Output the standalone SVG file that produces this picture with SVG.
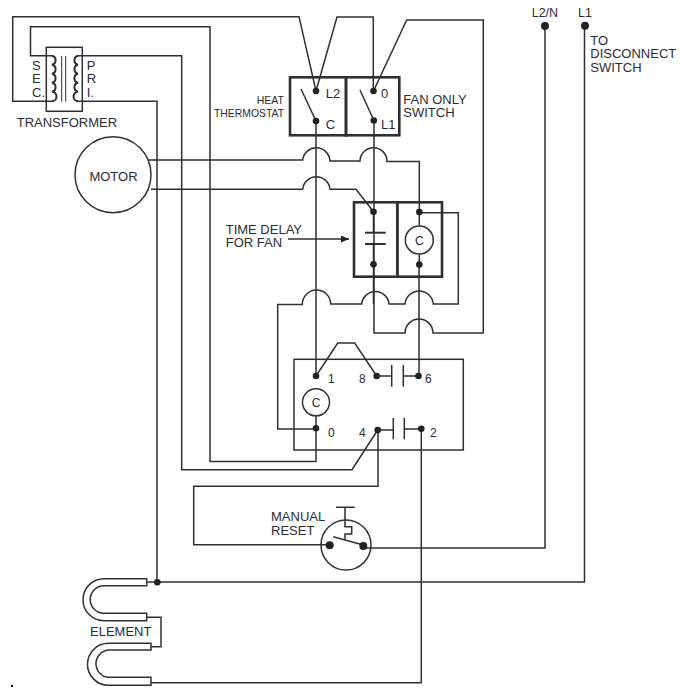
<svg xmlns="http://www.w3.org/2000/svg" width="686" height="695" viewBox="0 0 686 695">
<style>
text{font-family:"Liberation Sans",Arial,sans-serif;font-size:13px;fill:#2c2c34}
.s{font-size:12px}
.n{font-size:11.5px}
.m{text-anchor:middle}
.e{text-anchor:end}
path,line,rect,circle{fill:none;stroke:#303034;stroke-width:1.5}
.b{stroke-width:2.6}
.t{stroke-width:1}
.d{fill:#222226;stroke:none}
.p{stroke-width:2}
</style>
<defs>
<marker id="ah" markerWidth="10" markerHeight="8" refX="8" refY="3.5" orient="auto" markerUnits="userSpaceOnUse"><path d="M0 0L8 3.5L0 7z" style="fill:#222226;stroke:none"/></marker>
<circle id="dot" r="3.3" class="d"/>
<circle id="bigdot" r="4" class="d"/>
</defs>
<rect width="686" height="695" style="fill:#fff;stroke:none"/>
<g id="connectors">
<path d="M52 101.3H12.7V16.7H299L316 91"/>
<path d="M52 55.7H30.5V26.7H210V461.5H316V428"/>
<path d="M78 55.7H181.7V469.7H352L377.7 430"/>
<path d="M78 101.3H157V582M146.7 582H157H584.5V26"/>
<path d="M316 91L337 17H373.3V91"/>
<path d="M373.5 91L406.7 20H483.3V333H433A14 14 0 0 0 405 333H374V121"/>
<path d="M316 121V376"/>
<path d="M316 416V428"/>
<path d="M149 160H302.7A13.7 13.7 0 0 1 330 161H360A13.5 13.5 0 0 1 387 161.5H419.3V212"/>
<path d="M151 189.3H302.7A13.7 13.7 0 0 1 330 189.3H356L373.5 211.7"/>
<path d="M419.3 212.7H458.3V304H433.3A14.2 14.2 0 0 0 405 304H389A13.7 13.7 0 0 0 361.7 304H330.7A14.2 14.2 0 0 0 302.3 304.6H277.7V429H316"/>
<path d="M419 264.6V376"/>
<path d="M373.5 211.7V232.7M373.5 244V264.6V304"/>
<path d="M419.3 212V226M419.3 254V264.6"/>
<path d="M288 239H349" marker-end="url(#ah)"/>
<path d="M316 376L337.7 343H354.7L376.7 376"/>
<path d="M376.7 376H391.7M403.3 376H418.3"/>
<path d="M377.7 430H393.3M404.3 429H421.3"/>
<path d="M378 430V486.3H193.7V544.7H329.7"/>
<path d="M363.3 548H545V26"/>
<path d="M421.3 429V682.7H151" />
<path d="M146.7 617.3H161V646.7H151"/>
</g>
<g id="transformer">
<rect x="46.3" y="47.3" width="36" height="64"/>
<path d="M52 55.7A4.5 4.6 0 0 1 52 64.7A4.5 4.6 0 0 1 52 73.7A4.5 4.6 0 0 1 52 82.7A4.5 4.6 0 0 1 52 91.7A4.5 4.8 0 0 1 52 101.3" class="p"/>
<path d="M78 55.7A4.5 4.6 0 0 0 78 64.7A4.5 4.6 0 0 0 78 73.7A4.5 4.6 0 0 0 78 82.7A4.5 4.6 0 0 0 78 91.7A4.5 4.8 0 0 0 78 101.3" class="p"/>
<line x1="61.7" y1="56" x2="61.7" y2="101.7" class="t"/>
<line x1="65.7" y1="56" x2="65.7" y2="101.7" class="t"/>
<text x="32" y="70">S</text><text x="32" y="83.3">E</text><text x="32" y="97">C.</text>
<text x="86.7" y="70">P</text><text x="86.7" y="83.3">R</text><text x="86.7" y="97">I.</text>
<text x="16.7" y="127">TRANSFORMER</text>
</g>
<g id="motor">
<circle cx="113" cy="174.7" r="38"/>
<text x="113.5" y="180.7" class="m">MOTOR</text>
</g>
<g id="heat-thermostat">
<rect x="290" y="77.3" width="56" height="58" class="b"/>
<line x1="301" y1="89" x2="316" y2="121"/>
<use href="#dot" x="316" y="91"/><use href="#dot" x="316" y="121"/>
<text x="325.7" y="97.7">L2</text><text x="325.7" y="129">C</text>
<text x="256.7" y="104" class="n" textLength="27.3" lengthAdjust="spacingAndGlyphs">HEAT</text><text x="214" y="116.7" class="n" textLength="70" lengthAdjust="spacingAndGlyphs">THERMOSTAT</text>
</g>
<g id="fan-only-switch">
<rect x="346" y="77.3" width="53.3" height="58" class="b"/>
<line x1="360" y1="90" x2="373.7" y2="120"/>
<use href="#dot" x="373.5" y="91"/><use href="#dot" x="373.8" y="120.5"/>
<text x="381" y="97.7">0</text><text x="381" y="129">L1</text>
<text x="403.3" y="104">FAN ONLY</text><text x="403.3" y="116.7">SWITCH</text>
</g>
<g id="time-delay">
<rect x="354" y="202.3" width="43.3" height="74.4" class="b"/>
<rect x="397.3" y="202.3" width="44.7" height="74.4" class="b"/>
<line x1="365" y1="232.7" x2="385.7" y2="232.7" class="p"/><line x1="365" y1="244" x2="385.7" y2="244" class="p"/>
<circle cx="419.3" cy="240" r="14"/>
<text x="419.3" y="244.5" class="s m">C</text>
<use href="#dot" x="373.5" y="211.7"/><use href="#dot" x="373.5" y="264.3"/><use href="#dot" x="419.3" y="212"/><use href="#dot" x="419.3" y="264.6"/>
<text x="225.7" y="233.7">TIME DELAY</text><text x="225.7" y="246.7">FOR FAN</text>
</g>
<g id="relay">
<rect x="294" y="359.3" width="169.3" height="90.7"/>
<circle cx="316" cy="402.3" r="13.5"/>
<text x="316" y="407" class="s m">C</text>
<line x1="391.7" y1="365" x2="391.7" y2="386.7"/><line x1="403.3" y1="365" x2="403.3" y2="386.7"/>
<line x1="393.3" y1="418" x2="393.3" y2="439.3"/><line x1="404.3" y1="418" x2="404.3" y2="439.3"/>
<use href="#dot" x="316" y="376"/><use href="#dot" x="316" y="428.3"/><use href="#dot" x="376.7" y="376"/><use href="#dot" x="418.5" y="376"/><use href="#dot" x="377.7" y="430"/><use href="#dot" x="421.3" y="428.7"/>
<text x="328" y="383" class="s">1</text><text x="359" y="383" class="s">8</text><text x="425" y="383" class="s">6</text>
<text x="328" y="436.7" class="s">0</text><text x="359" y="436.7" class="s">4</text><text x="430" y="436.7" class="s">2</text>
</g>
<g id="manual-reset">
<circle cx="346" cy="545" r="25"/>
<line x1="333.3" y1="536.7" x2="363.3" y2="545"/>
<path d="M336 507.3H354.7M345 507.3V526.7H351.7V534H345V539.3"/>
<use href="#bigdot" x="329.7" y="545.3"/><use href="#bigdot" x="363.3" y="546"/>
<text x="271" y="521">MANUAL</text><text x="271" y="535">RESET</text>
</g>
<g id="line-terminals">
<use href="#bigdot" x="545" y="26"/><use href="#bigdot" x="585" y="25.7"/>
<text x="531.7" y="17.3" font-size="12.5" style="font-size:12.5px">L2/N</text><text x="578" y="17.3" style="font-size:12.5px">L1</text>
<text x="590.3" y="45">TO</text><text x="590.3" y="58.3">DISCONNECT</text><text x="590.3" y="72">SWITCH</text>
</g>
<g id="element">
<path d="M146.7 578.7H104A21 21 0 0 0 104 620.7H146.7V613.3H104A13.8 13.8 0 0 1 104 585.7H146.7Z"/>
<path d="M151 643.3H108.5A21 21 0 0 0 108.5 685.3H151V677.3H108.5A13.7 13.7 0 0 1 108.5 650H151Z"/>
<use href="#dot" x="157.3" y="582.3"/>
<text x="90" y="636">ELEMENT</text>
</g>
<rect x="11" y="685" width="2" height="2" style="fill:#111;stroke:none"/>
</svg>
